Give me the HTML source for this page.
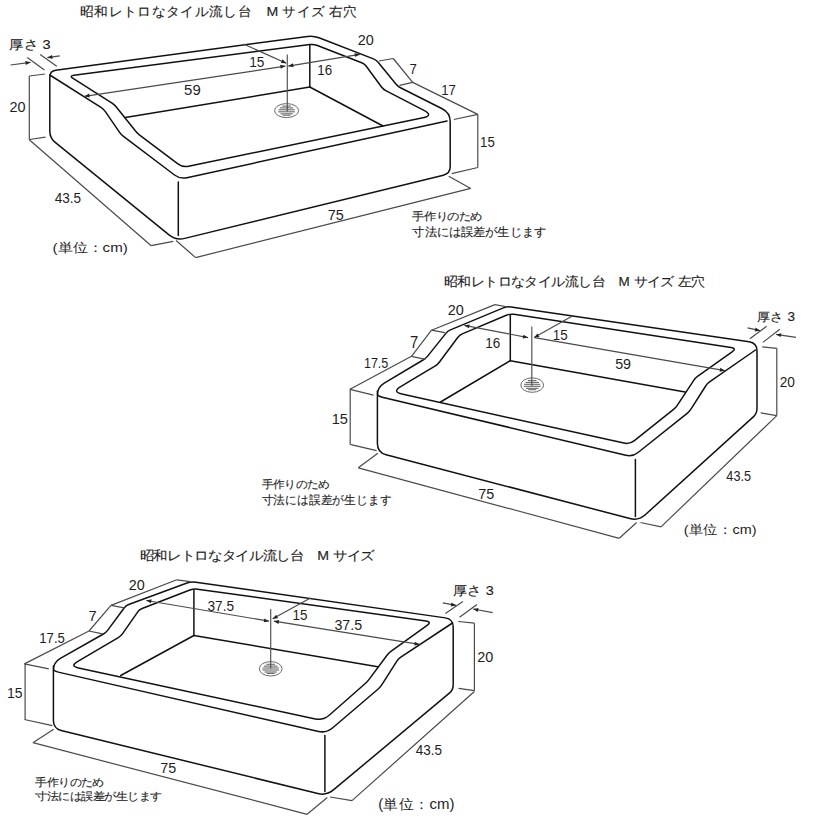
<!DOCTYPE html>
<html><head><meta charset="utf-8"><style>
html,body{margin:0;padding:0;background:#fff;width:820px;height:820px;overflow:hidden}
svg{display:block}
text{font-family:"Liberation Sans",sans-serif;fill:#1e1e1e;stroke:#1e1e1e;stroke-width:0px}
text.jp{stroke-width:0.15px}
</style></head><body>
<svg width="820" height="820" viewBox="0 0 820 820">
<path d="M49.8 104.5L49.8 131Q49.8 138 55.23 142.41L169.01 234.83Q176 240.5 184.74 238.36L443.4 175.16Q450.2 173.5 450.2 166.5L450.2 121.8Q450.2 112.8 442.16 108.75L400.48 87.75Q397.8 86.4 395.9 84.08L378.1 62.32Q376.2 60 373.4 58.91L318.99 37.77Q313.4 35.6 307.45 36.4L55.75 70.2Q49.8 71 49.8 77Z" stroke="#111" stroke-width="1.5" fill="none" stroke-linejoin="round" stroke-linecap="round"/>
<path d="M49.8 75L100.96 107.3Q103.5 108.9 105.2 111.38L119.4 132.12Q121.1 134.6 123.49 136.41L174.52 174.98Q180.1 179.2 186.94 177.71L447 121" stroke="#111" stroke-width="1.5" fill="none" stroke-linejoin="round" stroke-linecap="round"/>
<path d="M178.3 182L178.3 235.5" stroke="#111" stroke-width="1.5" fill="none" stroke-linejoin="round" stroke-linecap="round"/>
<path d="M91.55 90.1L111.66 102.8Q114.2 104.4 116.08 106.74L135.72 131.26Q137.6 133.6 140 135.4L177.9 163.8Q182.7 167.4 188.58 166.19L422.93 117.73Q433.7 115.5 423.94 110.43L385.76 90.58Q383.1 89.2 381.33 86.78L366.27 66.22Q364.5 63.8 361.7 62.71L317.43 45.45Q313.7 44 309.73 44.52L73.86 75.16Q68.9 75.8 73.13 78.47Z" stroke="#111" stroke-width="1.5" fill="none" stroke-linejoin="round" stroke-linecap="round"/>
<path d="M309.8 45L309.8 87" stroke="#111" stroke-width="1.5" fill="none" stroke-linejoin="round" stroke-linecap="round"/>
<path d="M309.8 87L383 126" stroke="#111" stroke-width="1.5" fill="none" stroke-linejoin="round" stroke-linecap="round"/>
<path d="M309.8 87L125.4 117.6" stroke="#111" stroke-width="1.5" fill="none" stroke-linejoin="round" stroke-linecap="round"/>
<ellipse cx="286.6" cy="110.6" rx="12" ry="7" stroke="#6a6a6a" stroke-width="1" fill="none"/>
<path d="M282.3 106.1L290.9 106.1" stroke="#6a6a6a" stroke-width="1.1"/>
<path d="M279.9 107.9L293.3 107.9" stroke="#6a6a6a" stroke-width="1.1"/>
<path d="M278.5 109.8L294.7 109.8" stroke="#6a6a6a" stroke-width="1.1"/>
<path d="M278.3 111.8L294.9 111.8" stroke="#6a6a6a" stroke-width="1.1"/>
<path d="M280.4 113.8L292.8 113.8" stroke="#6a6a6a" stroke-width="1.1"/>
<path d="M282.6 115.2L290.6 115.2" stroke="#6a6a6a" stroke-width="1.1"/>
<path d="M287.3 54.4L287.3 111.5" stroke="#555" stroke-width="1.2"/>
<path d="M285.4 66.1L84.5 96.3" stroke="#4a4a4a" stroke-width="1.2" fill="none"/>
<path d="M84.5 96.3L89.15 93.58L89.74 97.53Z" fill="#222"/>
<path d="M285.4 66.1L280.75 68.82L280.16 64.87Z" fill="#222"/>
<path d="M243.4 44L286.3 63.2" stroke="#4a4a4a" stroke-width="1.2" fill="none"/>
<path d="M286.3 63.2L280.92 62.98L282.55 59.33Z" fill="#222"/>
<path d="M359.8 54.3L288.3 66.1" stroke="#4a4a4a" stroke-width="1.2" fill="none"/>
<path d="M288.3 66.1L292.91 63.31L293.56 67.26Z" fill="#222"/>
<path d="M359.8 54.3L355.19 57.09L354.54 53.14Z" fill="#222"/>
<path d="M29.3 76L29.3 139.8" stroke="#4a4a4a" stroke-width="1.2" fill="none"/>
<path d="M29.3 76L45 74" stroke="#4a4a4a" stroke-width="1.2" fill="none"/>
<path d="M29.3 139.5L45.5 137.2" stroke="#4a4a4a" stroke-width="1.2" fill="none"/>
<path d="M29.3 139.8L151.2 245.7" stroke="#4a4a4a" stroke-width="1.2" fill="none"/>
<path d="M151.2 245.7L173.2 241.3" stroke="#4a4a4a" stroke-width="1.2" fill="none"/>
<path d="M176.1 240.5L195.6 257.6" stroke="#4a4a4a" stroke-width="1.2" fill="none"/>
<path d="M195.6 257.6L470.7 188.4" stroke="#4a4a4a" stroke-width="1.2" fill="none"/>
<path d="M448.8 176.2L470.7 188.4" stroke="#4a4a4a" stroke-width="1.2" fill="none"/>
<path d="M477.8 114.4L477.8 167.5" stroke="#4a4a4a" stroke-width="1.2" fill="none"/>
<path d="M451.7 173.7L477.8 167.5" stroke="#4a4a4a" stroke-width="1.2" fill="none"/>
<path d="M453.9 119.5L477.8 114.4" stroke="#4a4a4a" stroke-width="1.2" fill="none"/>
<path d="M412.7 82.4L477.8 114.4" stroke="#4a4a4a" stroke-width="1.2" fill="none"/>
<path d="M393.2 58.5L412.7 82.4" stroke="#4a4a4a" stroke-width="1.2" fill="none"/>
<path d="M379 61L393.2 58.5" stroke="#4a4a4a" stroke-width="1.2" fill="none"/>
<path d="M399.5 85.4L412.7 82.4" stroke="#4a4a4a" stroke-width="1.2" fill="none"/>
<path d="M40.1 54.6L56.8 66.2" stroke="#4a4a4a" stroke-width="1.2" fill="none"/>
<path d="M27.3 57.6L44.4 70" stroke="#4a4a4a" stroke-width="1.2" fill="none"/>
<path d="M10.5 65L30.5 62.3" stroke="#4a4a4a" stroke-width="1.2" fill="none"/>
<path d="M30.5 62.3L25.81 64.95L25.28 60.99Z" fill="#222"/>
<path d="M59.8 55.9L47.4 57.6" stroke="#4a4a4a" stroke-width="1.2" fill="none"/>
<path d="M47.4 57.6L52.08 54.94L52.63 58.9Z" fill="#222"/>
<text transform="matrix(1.0106 0 0 0.9614 79.99 15.90)" font-size="14" class="jp">昭和レトロなタイル流し台　M サイズ 右穴</text>
<text transform="matrix(1.0416 0 0 0.9333 8.88 49.33)" font-size="14" class="jp">厚さ 3</text>
<text transform="matrix(1.0316 0 0 1.0300 9.43 112.44)" font-size="14">20</text>
<text transform="matrix(0.9660 0 0 1.1000 54.66 202.92)" font-size="14">43.5</text>
<text transform="matrix(1.0813 0 0 0.9333 52.59 251.70)" font-size="14">(単位：cm)</text>
<text transform="matrix(1.0667 0 0 1.0800 184.10 94.93)" font-size="14">59</text>
<text transform="matrix(0.9786 0 0 1.0500 249.22 67.04)" font-size="14">15</text>
<text transform="matrix(0.9571 0 0 1.0500 317.34 74.94)" font-size="14">16</text>
<text transform="matrix(1.0316 0 0 1.0500 357.73 44.54)" font-size="14">20</text>
<text transform="matrix(0.9440 0 0 1.0462 409.49 74.10)" font-size="14">7</text>
<text transform="matrix(0.9429 0 0 1.0462 441.26 94.60)" font-size="14">17</text>
<text transform="matrix(0.9429 0 0 1.0200 480.06 147.05)" font-size="14">15</text>
<text transform="matrix(1.0316 0 0 1.0800 327.73 219.53)" font-size="14">75</text>
<text transform="matrix(0.8604 0 0 0.7714 412.48 219.76)" font-size="14" class="jp">手作りのため</text>
<text transform="matrix(0.8556 0 0 0.8357 412.49 235.91)" font-size="14" class="jp">寸法には誤差が生じます</text>
<path d="M377.4 419.9L377.4 443.5Q377.4 452.5 386.11 454.78L629.89 518.52Q638.6 520.8 645.27 514.76L753.3 416.86Q757 413.5 757 408.5L757 350.8Q757 342.8 749.08 341.65L510.96 306.98Q507 306.4 503.31 307.93L450.47 329.85Q447.7 331 445.83 333.35L427.87 355.85Q426 358.2 423.43 359.74L384.26 383.19Q377.4 387.3 377.4 395.3Z" stroke="#111" stroke-width="1.5" fill="none" stroke-linejoin="round" stroke-linecap="round"/>
<path d="M377.4 391L377.4 393.5Q377.4 396 382.26 397.16L625.79 455.28Q632.6 456.9 638.07 452.53L687.15 413.37Q689.5 411.5 691.1 408.97L705.5 386.23Q707.1 383.7 709.56 381.99L755.5 350" stroke="#111" stroke-width="1.5" fill="none" stroke-linejoin="round" stroke-linecap="round"/>
<path d="M635.4 459.5L635.4 516.6" stroke="#111" stroke-width="1.5" fill="none" stroke-linejoin="round" stroke-linecap="round"/>
<path d="M414.8 378.2L434.93 366.14Q437.5 364.6 439.29 362.2L457.71 337.5Q459.5 335.1 462.26 333.93L506.32 315.26Q510 313.7 513.95 314.3L731.07 347.49Q737 348.4 732.1 351.86L697.85 376.07Q695.4 377.8 693.75 380.3L677.25 405.3Q675.6 407.8 673.25 409.67L634.39 440.66Q629.7 444.4 623.84 443.1L401.86 393.96Q392.1 391.8 400.68 386.66Z" stroke="#111" stroke-width="1.5" fill="none" stroke-linejoin="round" stroke-linecap="round"/>
<path d="M510.3 315.5L510.3 360.7" stroke="#111" stroke-width="1.5" fill="none" stroke-linejoin="round" stroke-linecap="round"/>
<path d="M510.3 360.7L685.1 391.9" stroke="#111" stroke-width="1.5" fill="none" stroke-linejoin="round" stroke-linecap="round"/>
<path d="M510.3 360.7L440.5 402" stroke="#111" stroke-width="1.5" fill="none" stroke-linejoin="round" stroke-linecap="round"/>
<ellipse cx="532.2" cy="385.1" rx="11.4" ry="7.2" stroke="#6a6a6a" stroke-width="1" fill="none"/>
<path d="M527.9 380.6L536.5 380.6" stroke="#6a6a6a" stroke-width="1.1"/>
<path d="M525.5 382.4L538.9 382.4" stroke="#6a6a6a" stroke-width="1.1"/>
<path d="M524.1 384.3L540.3 384.3" stroke="#6a6a6a" stroke-width="1.1"/>
<path d="M523.9 386.3L540.5 386.3" stroke="#6a6a6a" stroke-width="1.1"/>
<path d="M526 388.3L538.4 388.3" stroke="#6a6a6a" stroke-width="1.1"/>
<path d="M528.2 389.7L536.2 389.7" stroke="#6a6a6a" stroke-width="1.1"/>
<path d="M531.8 326.6L531.8 386" stroke="#555" stroke-width="1.2"/>
<path d="M528 337.6L464.4 325.4" stroke="#4a4a4a" stroke-width="1.2" fill="none"/>
<path d="M464.4 325.4L469.69 324.38L468.93 328.31Z" fill="#222"/>
<path d="M528 337.6L522.71 338.62L523.47 334.69Z" fill="#222"/>
<path d="M573.2 315.6L534.1 337.6" stroke="#4a4a4a" stroke-width="1.2" fill="none"/>
<path d="M534.1 337.6L537.48 333.41L539.44 336.89Z" fill="#222"/>
<path d="M534.5 337.6L724.9 370.7" stroke="#4a4a4a" stroke-width="1.2" fill="none"/>
<path d="M724.9 370.7L719.63 371.81L720.32 367.87Z" fill="#222"/>
<path d="M747.6 327.8L760 330.7" stroke="#4a4a4a" stroke-width="1.2" fill="none"/>
<path d="M760 330.7L754.68 331.51L755.59 327.61Z" fill="#222"/>
<path d="M749.8 338.8L766.6 326.3" stroke="#4a4a4a" stroke-width="1.2" fill="none"/>
<path d="M762.9 342.4L779.8 329.3" stroke="#4a4a4a" stroke-width="1.2" fill="none"/>
<path d="M795.9 337.3L776.1 334.4" stroke="#4a4a4a" stroke-width="1.2" fill="none"/>
<path d="M776.1 334.4L781.34 333.15L780.76 337.1Z" fill="#222"/>
<path d="M776.8 348.3L776.8 415.6" stroke="#4a4a4a" stroke-width="1.2" fill="none"/>
<path d="M762.2 346.8L776.8 348.3" stroke="#4a4a4a" stroke-width="1.2" fill="none"/>
<path d="M760.7 412.9L776.8 415.6" stroke="#4a4a4a" stroke-width="1.2" fill="none"/>
<path d="M776.8 415.6L661 526.9" stroke="#4a4a4a" stroke-width="1.2" fill="none"/>
<path d="M640.5 522.5L661 526.9" stroke="#4a4a4a" stroke-width="1.2" fill="none"/>
<path d="M377.8 453.2L358.3 467.8" stroke="#4a4a4a" stroke-width="1.2" fill="none"/>
<path d="M358.3 467.8L619.3 538.3" stroke="#4a4a4a" stroke-width="1.2" fill="none"/>
<path d="M619.3 538.3L636.6 522.5" stroke="#4a4a4a" stroke-width="1.2" fill="none"/>
<path d="M350.2 388.8L350.2 444.9" stroke="#4a4a4a" stroke-width="1.2" fill="none"/>
<path d="M350 389.3L373.4 395.1" stroke="#4a4a4a" stroke-width="1.2" fill="none"/>
<path d="M351 444.6L376.6 450.7" stroke="#4a4a4a" stroke-width="1.2" fill="none"/>
<path d="M350 389.3L411.5 356.3" stroke="#4a4a4a" stroke-width="1.2" fill="none"/>
<path d="M411.5 356.3L425.4 359.3" stroke="#4a4a4a" stroke-width="1.2" fill="none"/>
<path d="M411.5 356.3L431.5 330.2" stroke="#4a4a4a" stroke-width="1.2" fill="none"/>
<path d="M431.5 330.2L444.9 332.7" stroke="#4a4a4a" stroke-width="1.2" fill="none"/>
<path d="M431.5 330.2L494.9 304.6" stroke="#4a4a4a" stroke-width="1.2" fill="none"/>
<path d="M494.9 304.6L508 307" stroke="#4a4a4a" stroke-width="1.2" fill="none"/>
<text transform="matrix(0.9624 0 0 0.8982 443.84 285.55)" font-size="14" class="jp">昭和レトロなタイル流し台　M サイズ 左穴</text>
<text transform="matrix(0.9688 0 0 0.8863 756.62 320.53)" font-size="14" class="jp">厚さ 3</text>
<text transform="matrix(0.9754 0 0 1.0800 779.77 386.83)" font-size="14">20</text>
<text transform="matrix(0.9057 0 0 1.0000 726.37 480.75)" font-size="14">43.5</text>
<text transform="matrix(1.0286 0 0 0.9333 683.83 533.50)" font-size="14">(単位：cm)</text>
<text transform="matrix(1.0316 0 0 1.1000 478.23 499.03)" font-size="14">75</text>
<text transform="matrix(1.0429 0 0 1.0600 331.66 424.04)" font-size="14">15</text>
<text transform="matrix(0.8971 0 0 1.0700 363.90 368.13)" font-size="14">17.5</text>
<text transform="matrix(1.0560 0 0 1.2000 409.91 347.60)" font-size="14">7</text>
<text transform="matrix(1.0316 0 0 1.1000 447.73 315.33)" font-size="14">20</text>
<text transform="matrix(0.9643 0 0 1.0900 485.34 348.23)" font-size="14">16</text>
<text transform="matrix(0.9571 0 0 1.1000 552.74 339.73)" font-size="14">15</text>
<text transform="matrix(1.0246 0 0 1.1000 615.13 369.03)" font-size="14">59</text>
<text transform="matrix(0.8133 0 0 0.7643 261.50 487.78)" font-size="14" class="jp">手作りのため</text>
<text transform="matrix(0.8111 0 0 0.8357 261.50 504.01)" font-size="14" class="jp">寸法には誤差が生じます</text>
<path d="M53.4 695.4L53.4 720.5Q53.4 728.5 61.17 730.41L317.76 793.55Q326.5 795.7 333.41 789.93L449.36 693.2Q453.2 690 453.2 685L453.2 627Q453.2 619 445.28 617.87L195.95 582.21Q191 581.5 186.31 583.24L128.71 604.56Q125.9 605.6 124.12 608.01L107.78 630.09Q106 632.5 103.39 633.98L60.36 658.36Q53.4 662.3 53.4 670.3Z" stroke="#111" stroke-width="1.5" fill="none" stroke-linejoin="round" stroke-linecap="round"/>
<path d="M53.4 666L53.4 668.5Q53.4 671 58.28 672.11L318.6 731.42Q326.4 733.2 332.48 728L378.22 688.95Q380.5 687 382.1 684.46L396.7 661.34Q398.3 658.8 400.8 657.15L452.5 623" stroke="#111" stroke-width="1.5" fill="none" stroke-linejoin="round" stroke-linecap="round"/>
<path d="M324.9 735.5L324.9 791.5" stroke="#111" stroke-width="1.5" fill="none" stroke-linejoin="round" stroke-linecap="round"/>
<path d="M95.3 651.1L118.31 637.62Q120.9 636.1 122.61 633.64L137.59 612.06Q139.3 609.6 142.1 608.52L189.87 590.04Q193.6 588.6 197.56 589.15L426.06 620.97Q432 621.8 427.13 625.31L391.23 651.15Q388.8 652.9 387.01 655.31L369.29 679.09Q367.5 681.5 365.25 683.49L329.2 715.31Q323.2 720.6 315.38 718.92L78.5 667.99Q69.7 666.1 77.47 661.55Z" stroke="#111" stroke-width="1.5" fill="none" stroke-linejoin="round" stroke-linecap="round"/>
<path d="M193.9 590.6L193.9 635.5" stroke="#111" stroke-width="1.5" fill="none" stroke-linejoin="round" stroke-linecap="round"/>
<path d="M193.9 635.5L377.8 666.8" stroke="#111" stroke-width="1.5" fill="none" stroke-linejoin="round" stroke-linecap="round"/>
<path d="M193.9 635.5L120.7 675.5" stroke="#111" stroke-width="1.5" fill="none" stroke-linejoin="round" stroke-linecap="round"/>
<ellipse cx="270.7" cy="668.8" rx="11.4" ry="7.2" stroke="#6a6a6a" stroke-width="1" fill="none"/>
<path d="M266.4 664.3L275 664.3" stroke="#6a6a6a" stroke-width="1.1"/>
<path d="M264 666.1L277.4 666.1" stroke="#6a6a6a" stroke-width="1.1"/>
<path d="M262.6 668L278.8 668" stroke="#6a6a6a" stroke-width="1.1"/>
<path d="M262.4 670L279 670" stroke="#6a6a6a" stroke-width="1.1"/>
<path d="M264.5 672L276.9 672" stroke="#6a6a6a" stroke-width="1.1"/>
<path d="M266.7 673.4L274.7 673.4" stroke="#6a6a6a" stroke-width="1.1"/>
<path d="M270.7 609L270.7 668.5" stroke="#555" stroke-width="1.2"/>
<path d="M269 621.2L146.3 600.5" stroke="#4a4a4a" stroke-width="1.2" fill="none"/>
<path d="M146.3 600.5L151.56 599.36L150.9 603.3Z" fill="#222"/>
<path d="M269 621.2L263.74 622.34L264.4 618.4Z" fill="#222"/>
<path d="M273.9 621.2L419.5 644.4" stroke="#4a4a4a" stroke-width="1.2" fill="none"/>
<path d="M419.5 644.4L414.25 645.59L414.88 641.64Z" fill="#222"/>
<path d="M273.9 621.2L279.15 620.01L278.52 623.96Z" fill="#222"/>
<path d="M310.5 598L272.7 618.8" stroke="#4a4a4a" stroke-width="1.2" fill="none"/>
<path d="M272.7 618.8L276.12 614.64L278.04 618.14Z" fill="#222"/>
<path d="M111 605.4L176.8 579.8" stroke="#4a4a4a" stroke-width="1.2" fill="none"/>
<path d="M176.8 579.8L190.2 581.7" stroke="#4a4a4a" stroke-width="1.2" fill="none"/>
<path d="M111 605.4L124.4 607.8" stroke="#4a4a4a" stroke-width="1.2" fill="none"/>
<path d="M111 605.4L89 631" stroke="#4a4a4a" stroke-width="1.2" fill="none"/>
<path d="M89 631L102.4 633.9" stroke="#4a4a4a" stroke-width="1.2" fill="none"/>
<path d="M89 631L24.4 663.9" stroke="#4a4a4a" stroke-width="1.2" fill="none"/>
<path d="M24.4 663.9L48.8 668.8" stroke="#4a4a4a" stroke-width="1.2" fill="none"/>
<path d="M25.1 663.9L25.1 719.5" stroke="#4a4a4a" stroke-width="1.2" fill="none"/>
<path d="M24.4 719.5L52.4 725.6" stroke="#4a4a4a" stroke-width="1.2" fill="none"/>
<path d="M53.7 729.3L32.9 742.7" stroke="#4a4a4a" stroke-width="1.2" fill="none"/>
<path d="M32.9 742.7L307.1 814.3" stroke="#4a4a4a" stroke-width="1.2" fill="none"/>
<path d="M307.1 814.3L327.3 797.5" stroke="#4a4a4a" stroke-width="1.2" fill="none"/>
<path d="M330 797L352 800.6" stroke="#4a4a4a" stroke-width="1.2" fill="none"/>
<path d="M352 800.6L474.4 691.5" stroke="#4a4a4a" stroke-width="1.2" fill="none"/>
<path d="M474.4 623.2L474.4 690.7" stroke="#4a4a4a" stroke-width="1.2" fill="none"/>
<path d="M458.2 621.5L474.4 623.2" stroke="#4a4a4a" stroke-width="1.2" fill="none"/>
<path d="M458.5 688.3L474.4 690.7" stroke="#4a4a4a" stroke-width="1.2" fill="none"/>
<path d="M442.7 602.9L456.1 605.4" stroke="#4a4a4a" stroke-width="1.2" fill="none"/>
<path d="M456.1 605.4L450.82 606.45L451.55 602.52Z" fill="#222"/>
<path d="M445.4 613.4L462.9 601.5" stroke="#4a4a4a" stroke-width="1.2" fill="none"/>
<path d="M459.5 617.3L477 604.5" stroke="#4a4a4a" stroke-width="1.2" fill="none"/>
<path d="M492.7 612.7L473.2 609" stroke="#4a4a4a" stroke-width="1.2" fill="none"/>
<path d="M473.2 609L478.49 607.97L477.74 611.9Z" fill="#222"/>
<text transform="matrix(1.0113 0 0 0.9123 139.69 559.72)" font-size="14" class="jp">昭和レトロなタイル流し台　M サイズ</text>
<text transform="matrix(1.0246 0 0 1.0200 128.73 590.35)" font-size="14">20</text>
<text transform="matrix(1.0560 0 0 1.0462 88.51 621.20)" font-size="14">7</text>
<text transform="matrix(0.9398 0 0 1.0300 39.26 642.94)" font-size="14">17.5</text>
<text transform="matrix(1.0000 0 0 1.0300 7.00 698.24)" font-size="14">15</text>
<text transform="matrix(1.0246 0 0 1.1000 160.23 772.93)" font-size="14">75</text>
<text transform="matrix(0.8544 0 0 0.7857 35.19 786.03)" font-size="14" class="jp">手作りのため</text>
<text transform="matrix(0.8543 0 0 0.7786 35.19 800.45)" font-size="14" class="jp">寸法には誤差が生じます</text>
<text transform="matrix(0.9660 0 0 1.1000 415.66 755.12)" font-size="14">43.5</text>
<text transform="matrix(1.0725 0 0 1.0105 378.20 809.37)" font-size="14">(単位：cm)</text>
<text transform="matrix(1.0316 0 0 1.0800 477.23 662.43)" font-size="14">20</text>
<text transform="matrix(1.0312 0 0 0.9412 452.58 595.32)" font-size="14" class="jp">厚さ 3</text>
<text transform="matrix(0.9790 0 0 1.1000 207.51 611.23)" font-size="14">37.5</text>
<text transform="matrix(1.0210 0 0 1.1000 334.39 629.52)" font-size="14">37.5</text>
<text transform="matrix(0.9571 0 0 1.1000 292.44 619.73)" font-size="14">15</text>
</svg></body></html>
